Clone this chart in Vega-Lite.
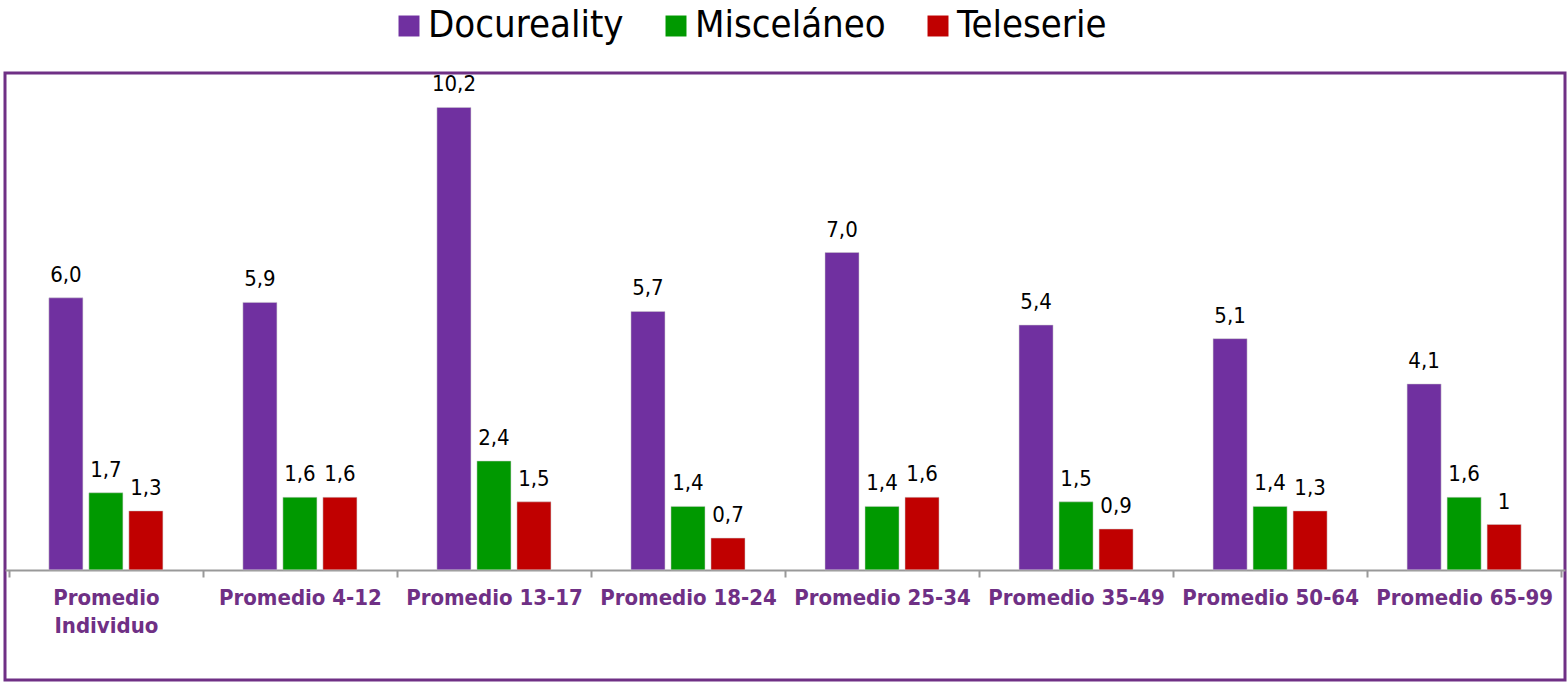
{
  "$schema": "https://vega.github.io/schema/vega-lite/v6.json",
  "autosize": {"type": "none"},
  "padding": {"left": 5, "top": 73, "right": 2, "bottom": 3},
  "width": 1560,
  "height": 607,
  "background": "white",
  "view": {"stroke": "#6f3085", "strokeWidth": 3},
  "data": {
    "values": [
      {"grupo": "Promedio Individuo", "genero": "Docureality", "valor": 6.0, "etiqueta": "6,0"},
      {"grupo": "Promedio Individuo", "genero": "Misceláneo", "valor": 1.7, "etiqueta": "1,7"},
      {"grupo": "Promedio Individuo", "genero": "Teleserie", "valor": 1.3, "etiqueta": "1,3"},
      {"grupo": "Promedio 4-12", "genero": "Docureality", "valor": 5.9, "etiqueta": "5,9"},
      {"grupo": "Promedio 4-12", "genero": "Misceláneo", "valor": 1.6, "etiqueta": "1,6"},
      {"grupo": "Promedio 4-12", "genero": "Teleserie", "valor": 1.6, "etiqueta": "1,6"},
      {"grupo": "Promedio 13-17", "genero": "Docureality", "valor": 10.2, "etiqueta": "10,2"},
      {"grupo": "Promedio 13-17", "genero": "Misceláneo", "valor": 2.4, "etiqueta": "2,4"},
      {"grupo": "Promedio 13-17", "genero": "Teleserie", "valor": 1.5, "etiqueta": "1,5"},
      {"grupo": "Promedio 18-24", "genero": "Docureality", "valor": 5.7, "etiqueta": "5,7"},
      {"grupo": "Promedio 18-24", "genero": "Misceláneo", "valor": 1.4, "etiqueta": "1,4"},
      {"grupo": "Promedio 18-24", "genero": "Teleserie", "valor": 0.7, "etiqueta": "0,7"},
      {"grupo": "Promedio 25-34", "genero": "Docureality", "valor": 7.0, "etiqueta": "7,0"},
      {"grupo": "Promedio 25-34", "genero": "Misceláneo", "valor": 1.4, "etiqueta": "1,4"},
      {"grupo": "Promedio 25-34", "genero": "Teleserie", "valor": 1.6, "etiqueta": "1,6"},
      {"grupo": "Promedio 35-49", "genero": "Docureality", "valor": 5.4, "etiqueta": "5,4"},
      {"grupo": "Promedio 35-49", "genero": "Misceláneo", "valor": 1.5, "etiqueta": "1,5"},
      {"grupo": "Promedio 35-49", "genero": "Teleserie", "valor": 0.9, "etiqueta": "0,9"},
      {"grupo": "Promedio 50-64", "genero": "Docureality", "valor": 5.1, "etiqueta": "5,1"},
      {"grupo": "Promedio 50-64", "genero": "Misceláneo", "valor": 1.4, "etiqueta": "1,4"},
      {"grupo": "Promedio 50-64", "genero": "Teleserie", "valor": 1.3, "etiqueta": "1,3"},
      {"grupo": "Promedio 65-99", "genero": "Docureality", "valor": 4.1, "etiqueta": "4,1"},
      {"grupo": "Promedio 65-99", "genero": "Misceláneo", "valor": 1.6, "etiqueta": "1,6"},
      {"grupo": "Promedio 65-99", "genero": "Teleserie", "valor": 1.0, "etiqueta": "1"}
    ]
  },
  "encoding": {
    "x": {
      "field": "grupo",
      "type": "nominal",
      "sort": null,
      "scale": {"paddingInner": 0, "paddingOuter": 0.02},
      "axis": {
        "title": null,
        "orient": "bottom",
        "offset": -110,
        "labelAngle": 0,
        "labelFont": "DejaVu Sans Condensed",
        "labelFontWeight": "bold",
        "labelFontSize": 22,
        "labelColor": "#6f3085",
        "labelPadding": 10,
        "labelLineHeight": 28,
        "labelLimit": 300,
        "labelExpr": "datum.label == 'Promedio Individuo' ? ['Promedio', 'Individuo'] : datum.label",
        "domainColor": "#999999",
        "domainWidth": 2,
        "tickBand": "extent",
        "tickColor": "#999999",
        "tickWidth": 2,
        "tickSize": 7,
        "grid": false
      }
    },
    "xOffset": {
      "field": "genero",
      "type": "nominal",
      "sort": ["Docureality", "Misceláneo", "Teleserie"],
      "scale": {"paddingInner": 0.15, "paddingOuter": 1.03}
    },
    "y": {
      "field": "valor",
      "type": "quantitative",
      "scale": {"domain": [-2.43, 10.96], "nice": false, "zero": false},
      "axis": null
    }
  },
  "layer": [
    {
      "mark": {"type": "bar", "stroke": "#cccccc", "strokeWidth": 0.5},
      "encoding": {
        "y2": {"datum": 0},
        "color": {
          "field": "genero",
          "type": "nominal",
          "sort": ["Docureality", "Misceláneo", "Teleserie"],
          "scale": {"domain": ["Docureality", "Misceláneo", "Teleserie"], "range": ["#7030a0", "#009900", "#c00000"]},
          "legend": {
            "title": null,
            "orient": "none",
            "direction": "horizontal",
            "legendX": 385,
            "legendY": -66,
            "symbolType": "square",
            "symbolSize": 440,
            "symbolStrokeWidth": 0,
            "labelFont": "DejaVu Sans Condensed",
            "labelFontSize": 38,
            "labelLimit": 400,
            "labelColor": "#000000",
            "labelOffset": 0,
            "columnPadding": 33
          }
        }
      }
    },
    {
      "mark": {"type": "text", "baseline": "alphabetic", "dy": -16, "font": "DejaVu Sans Condensed", "fontSize": 22, "color": "#000000"},
      "encoding": {
        "text": {"field": "etiqueta", "type": "nominal"}
      }
    }
  ]
}
